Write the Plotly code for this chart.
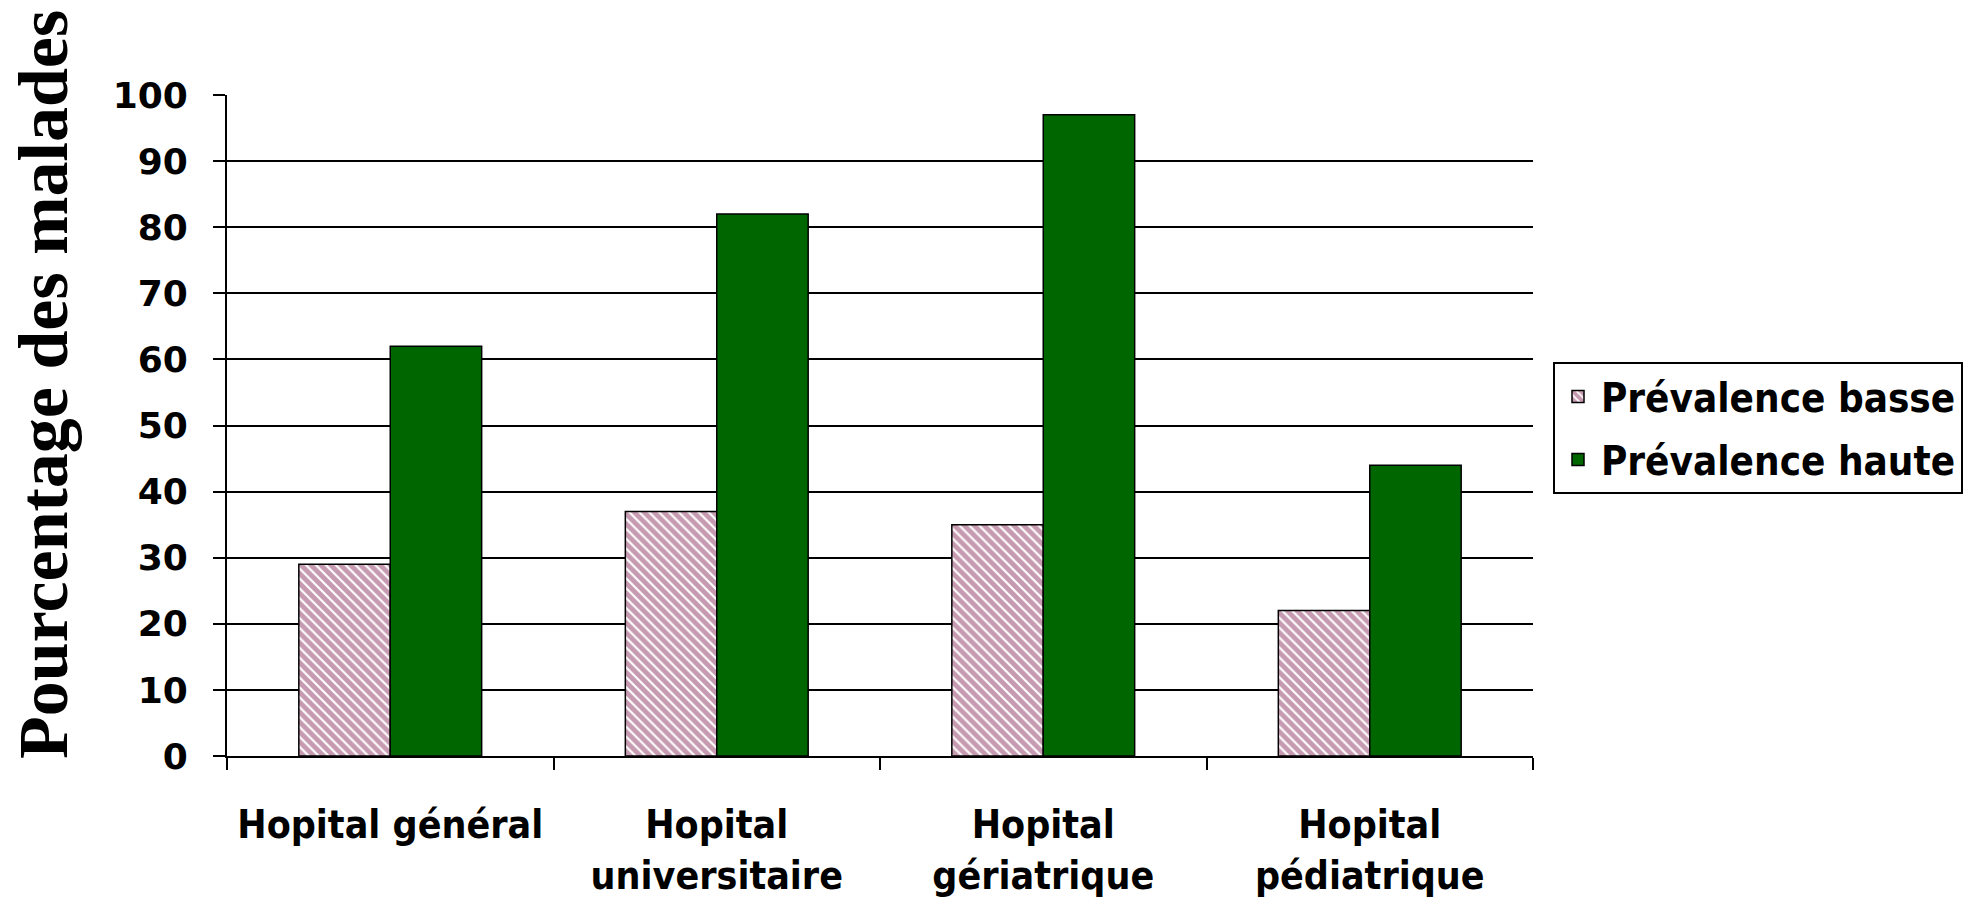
import plotly.graph_objects as go

# Hospital categories (two-line labels where the original wraps)
categories = ["Hopital général", "Hopital<br>universitaire", "Hopital<br>gériatrique", "Hopital<br>pédiatrique"]
prevalence_basse = [29, 37, 35, 22]
prevalence_haute = [62, 82, 97, 44]
y_ticks = [0, 10, 20, 30, 40, 50, 60, 70, 80, 90, 100]

W, H = 1978, 905
L, R, T, B = 227, 445, 95, 149

fig = go.Figure()
fig.add_trace(go.Bar(
    x=categories, y=prevalence_basse, name="Prévalence basse",
    legendgroup="basse",
    marker=dict(color="white",
                line=dict(color="black", width=1.5),
                pattern=dict(shape="\\", fgcolor="#8e3562", bgcolor="white",
                             size=7, solidity=0.7, fillmode="overlay")),
))
fig.add_trace(go.Bar(
    x=categories, y=prevalence_haute, name="Prévalence haute",
    legendgroup="haute",
    marker=dict(color="#006600", line=dict(color="black", width=1.5)),
))

fig.update_layout(
    width=W, height=H,
    margin=dict(l=L, r=R, t=T, b=B, pad=0),
    paper_bgcolor="white", plot_bgcolor="white",
    barmode="group", bargap=0.44, bargroupgap=0,
    showlegend=True,
    legend=dict(
        x=(1553 - L) / (W - L - R), y=(H - B - 362) / (H - T - B),
        xanchor="left", yanchor="top",
        bordercolor="black", borderwidth=2, bgcolor="white",
        font=dict(family="DejaVu Sans Condensed", size=40, color="black", weight="bold"),
        traceorder="grouped", tracegroupgap=8, itemwidth=36,
    ),
    xaxis=dict(
        type="category", tickson="boundaries", ticks="outside", ticklen=12,
        tickwidth=2, tickcolor="black", showgrid=False, automargin=False,
        showline=True, linecolor="black", linewidth=2,
        tickfont=dict(family="DejaVu Sans Condensed", size=39, color="black", weight="bold"),
        ticklabelstandoff=33,
    ),
    yaxis=dict(
        range=[0, 100], tickvals=y_ticks, ticks="outside", ticklen=12,
        tickwidth=2, tickcolor="black", automargin=False,
        showline=True, linecolor="black", linewidth=2,
        showgrid=True, gridcolor="black", gridwidth=2, zeroline=False,
        tickfont=dict(family="DejaVu Sans", size=36, color="black", weight="bold"),
        ticklabelstandoff=18,
    ),
    annotations=[dict(
        text="Pourcentage des malades", textangle=-90,
        xref="paper", yref="paper",
        x=-(L - 44) / (W - L - R), y=(H - B - 385) / (H - T - B),
        xanchor="center", yanchor="middle", showarrow=False,
        font=dict(family="Liberation Serif", size=70, color="black", weight="bold"),
    )],
)

fig.write_html("out.html")
